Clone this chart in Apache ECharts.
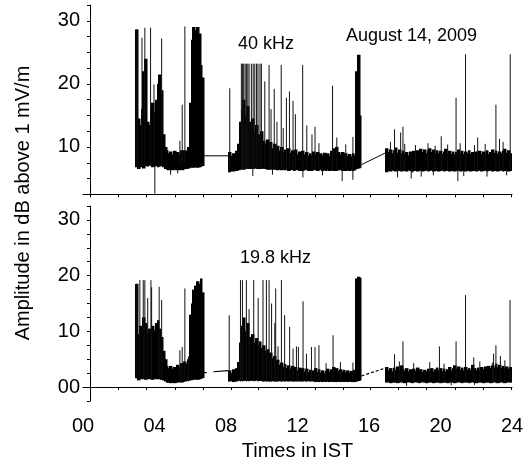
<!DOCTYPE html>
<html><head><meta charset="utf-8">
<script src="https://cdn.jsdelivr.net/npm/echarts@6/dist/echarts.min.js"></script>
<style>html,body{margin:0;padding:0;background:#fff}#c{width:532px;height:465px}</style>
</head><body><div id="c"></div>
<script>
// ---------- axis labels / ticks ----------
const hourLabels = [0, 4, 8, 12, 16, 20, 24];
const hourTicks = [0.39, 1.98, 3.56, 5.15, 6.73, 8.28, 9.81, 11.40, 12.98, 14.56, 16.05, 17.64, 19.23, 20.81, 22.39, 23.97];
const ampLabelsTop = [10, 20, 30];
const ampTicksTop = [2.5, 5, 7.5, 10, 12.5, 15, 17.5, 20, 22.5, 25, 27.5, 30, 32.5];
const ampLabelsBottom = [0, 10, 20, 30];
const ampTicksBottom = [-2.5, 0, 2.5, 5, 7.5, 10, 12.5, 15, 17.5, 20, 22.5, 25, 27.5, 30, 32.5];
const panelTitles = ['40 kHz', '19.8 kHz'];
const dateText = 'August 14, 2009';

// ---------- 40 kHz : dense core [hour, low, high] ----------
const band40 = [
[3.0,6.8,28.6],[3.1,6.5,14.5],[3.2,6.8,13.5],[3.3,7.0,16],[3.4,6.6,22],[3.5,7.0,24],[3.6,6.9,14],[3.7,7.1,13.5],
[3.8,7.0,16],[3.9,6.8,17],[4.0,6.9,15.5],[4.1,7.0,17.5],[4.2,6.8,20],[4.3,6.9,21.5],[4.4,7.0,19],[4.5,6.8,12],
[4.6,6.5,10],[4.7,6.4,9.5],[4.8,6.3,9.0],[4.9,6.4,9.3],[5.0,6.3,8.8],[5.1,6.4,9.4],[5.2,6.3,9.0],[5.3,6.4,9.2],
[5.4,6.3,8.9],[5.5,6.4,9.5],[5.6,6.3,9.0],[5.7,6.5,9.5],[5.8,6.5,9.4],[5.9,6.6,10],[6.0,6.7,17],[6.1,6.8,27],
[6.2,6.7,29],[6.3,6.8,28.5],[6.4,6.7,29],[6.5,6.8,28],[6.6,6.9,23],[6.7,7.0,21],
[8.2,6.0,9.2],[8.3,6.2,8.6],[8.4,6.1,9.0],[8.5,6.3,8.4],[8.6,6.2,9.4],[8.7,6.3,10.5],[8.8,6.4,14],[8.9,6.5,16],
[9.0,6.4,17.5],[9.1,6.5,15],[9.2,6.6,16.5],[9.3,6.5,14],[9.4,6.6,13],[9.5,6.5,14.5],[9.6,6.7,12.5],[9.7,6.6,13.5],
[9.8,6.5,12],[9.9,6.6,11.5],[10.0,6.5,12.5],[10.1,6.6,11],[10.2,6.5,10.5],[10.3,6.4,11.2],[10.4,6.5,10.3],[10.5,6.4,10.8],
[10.6,6.5,9.8],[10.7,6.4,10.5],[10.8,6.5,9.6],[10.9,6.3,10.2],[11.0,6.4,9.4],[11.1,6.3,10.0],[11.2,6.4,9.2],[11.3,6.3,9.6],
[11.4,6.4,9.0],[11.5,6.2,9.8],[11.6,6.3,9.1],[11.7,6.4,9.5],[11.8,6.2,8.9],[11.9,6.3,9.6],[12.0,6.4,8.8],[12.1,6.2,9.3],
[12.2,6.3,8.7],[12.3,6.2,9.4],[12.4,6.3,8.8],[12.5,6.4,9.2],[12.6,6.2,8.6],[12.7,6.3,9.0],[12.8,6.2,8.7],[12.9,6.4,9.3],
[13.0,6.3,8.8],[13.1,6.2,9.2],[13.2,6.3,8.6],[13.3,6.4,9.0],[13.4,6.2,8.7],[13.5,6.3,9.1],[13.6,6.2,8.8],[13.7,6.3,9.0],
[13.8,6.2,8.6],[13.9,6.3,9.4],[14.0,6.2,9.8],[14.1,6.3,9.3],[14.2,6.2,10.0],[14.3,6.4,9.2],[14.4,6.3,8.8],[14.5,6.2,9.2],
[14.6,6.3,8.7],[14.7,6.2,9.0],[14.8,6.3,8.6],[14.9,6.2,8.9],[15.0,6.3,8.5],[15.1,6.2,9.0],[15.2,6.3,8.7],[15.3,6.5,22],
[15.4,6.6,24.6],[15.5,6.7,15],
[17.0,6.0,9.8],[17.1,6.2,9.2],[17.2,6.1,9.6],[17.3,6.3,9.0],[17.4,6.2,9.5],[17.5,6.1,9.9],[17.6,6.3,9.1],[17.7,6.2,9.6],
[17.8,6.1,9.0],[17.9,6.3,9.4],[18.0,6.2,8.8],[18.1,6.1,9.2],[18.2,6.3,8.7],[18.3,6.2,9.3],[18.4,6.0,8.9],[18.5,6.2,9.4],
[18.6,6.3,8.8],[18.7,6.1,9.5],[18.8,6.2,9.1],[18.9,6.3,9.7],[19.0,6.1,9.2],[19.1,6.2,9.6],[19.2,6.3,9.0],[19.3,6.1,9.5],
[19.4,6.2,9.8],[19.5,6.3,9.2],[19.6,6.1,9.6],[19.7,6.2,9.1],[19.8,6.3,9.5],[19.9,6.1,9.0],[20.0,6.2,9.4],[20.1,6.3,8.9],
[20.2,6.1,9.3],[20.3,6.2,9.7],[20.4,6.3,9.1],[20.5,6.1,9.4],[20.6,6.2,8.9],[20.7,6.3,9.3],[20.8,6.1,8.8],[20.9,6.2,9.2],
[21.0,6.3,9.6],[21.1,6.1,9.0],[21.2,6.2,9.4],[21.3,6.3,8.9],[21.4,6.1,9.3],[21.5,6.2,9.0],[21.6,6.3,9.5],[21.7,6.1,8.9],
[21.8,6.2,9.2],[21.9,6.3,8.8],[22.0,6.1,9.3],[22.1,6.2,9.0],[22.2,6.3,9.4],[22.3,6.1,8.9],[22.4,6.2,9.3],[22.5,6.3,9.0],
[22.6,6.1,9.5],[22.7,6.2,8.9],[22.8,6.3,9.2],[22.9,6.1,9.6],[23.0,6.2,9.1],[23.1,6.3,9.4],[23.2,6.1,8.9],[23.3,6.2,9.3],
[23.4,6.3,9.0],[23.5,6.1,9.4],[23.6,6.2,9.7],[23.7,6.3,9.1],[23.8,6.1,9.5],[23.9,6.2,9.0]
];
// 40 kHz isolated spikes [hour, low, high]
const spikes40 = [
[3.02,7,28.7],[3.30,7,27.3],[3.46,7,28.9],[3.78,7,28.9],[3.97,7,19.9],[4.02,2.6,7],[4.40,7,27.2],
[5.42,7,11],[5.55,7,16.7],[5.70,7,29.1],[4.9,5.6,6.5],[5.3,5.8,6.5],
[8.21,6,19.3],[8.86,6.5,23.2],[8.93,6.5,23.2],[8.99,6.5,23.2],[9.07,6.5,23.2],[9.14,6.5,23.2],[9.22,6.5,23.2],
[9.29,6.5,23.2],[9.42,6.5,23.2],[9.52,6.5,23.2],[9.61,6.5,23.2],[9.71,6.5,23.2],[9.79,6.5,23.2],[9.90,6.5,23.2],
[9.98,6.5,23.2],[10.17,6.5,20.4],[10.41,6.5,23.0],[10.52,6.5,16],[10.70,6.5,19.2],[10.85,6.5,14],[11.09,6.5,23.0],
[11.2,6.5,13],[11.38,6.5,17.8],[11.55,6.5,18.8],[11.75,6.5,17.3],[11.88,6.5,15.2],[12.29,6.5,23.0],[12.52,6.5,13.4],
[12.81,6.5,12.0],[12.98,6.5,13.2],[13.96,6.5,19.7],[14.2,6.5,11.5],[14.5,4.6,7],[15.1,4.8,11.6],
[9.5,5.4,6.5],[10.6,5.6,6.5],[12.3,5.2,6.5],[13.4,5.5,6.5],[13.2,6.5,10.6],[14.7,6.5,10.4],
[17.43,6.2,12.8],[17.77,6.2,12.3],[17.9,6.2,13.2],[18.36,5.0,7],[18.92,5.3,7],[20.04,6.2,11.7],[20.87,6.2,17.8],
[20.97,4.6,7],[21.40,6.2,24.7],[22.08,6.2,11.5],[23.1,6.2,16.7],[23.3,6.2,11.3],[23.9,6.2,24.7],
[17.2,6.2,10.8],[18.0,6.2,10.5],[18.6,6.2,10.3],[19.3,6.2,10.6],[19.7,6.2,10.2],[20.4,6.2,10.4],[21.1,6.2,10.6],
[21.9,6.2,10.3],[22.5,6.2,10.5],[23.5,6.2,10.8],
[17.6,5.2,6.5],[19.6,5.5,6.5],[21.3,5.4,6.5],[22.6,5.3,6.5],[23.7,5.5,6.5]
];
const bridge40a = [[6.72, 8.6], [8.2, 8.6]];
const bridge40b = [[15.58, 7.2], [16.95, 9.1]];

// ---------- 19.8 kHz : dense core [hour, low, high] ----------
const band198 = [
[3.0,1.6,18.5],[3.1,1.2,9.5],[3.2,1.5,11],[3.3,1.4,10],[3.4,1.5,12.5],[3.5,1.3,11.5],[3.6,1.5,9.5],[3.7,1.4,10.5],
[3.8,1.5,9.8],[3.9,1.3,11],[4.0,1.5,10.2],[4.1,1.4,11.5],[4.2,1.5,12],[4.3,1.4,10.5],[4.4,1.3,9],[4.5,1.2,6.5],
[4.6,1.0,5.0],[4.7,0.8,3.8],[4.8,0.8,3.4],[4.9,0.7,3.8],[5.0,0.8,3.3],[5.1,0.7,3.6],[5.2,0.8,3.2],[5.3,0.8,4.0],
[5.4,0.9,3.5],[5.5,0.8,4.3],[5.6,0.9,3.9],[5.7,1.0,4.6],[5.8,1.1,4.2],[5.9,1.2,5.0],[6.0,1.2,13],[6.1,1.3,15],
[6.2,1.3,17.5],[6.3,1.4,18.2],[6.4,1.3,19],[6.5,1.4,18.5],[6.6,1.5,19.5],[6.7,1.6,17],
[8.2,1.0,3.0],[8.3,1.1,2.5],[8.4,0.9,3.2],[8.5,1.1,2.6],[8.6,1.0,3.4],[8.7,1.2,4.5],[8.8,1.1,8],[8.9,1.2,11],
[9.0,1.1,12.5],[9.1,1.2,10],[9.2,1.1,11.5],[9.3,1.2,9],[9.4,1.1,8.5],[9.5,1.2,9.5],[9.6,1.1,8],[9.7,1.2,8.8],
[9.8,1.1,7.5],[9.9,1.2,8.2],[10.0,1.1,7],[10.1,1.0,7.5],[10.2,1.1,6.5],[10.3,1.0,6.8],[10.4,1.1,5.8],[10.5,1.0,6.2],
[10.6,1.1,5.2],[10.7,1.0,5.6],[10.8,1.1,4.5],[10.9,1.0,4.9],[11.0,1.1,4.0],[11.1,1.0,4.4],[11.2,1.1,3.6],[11.3,1.0,4.1],
[11.4,1.1,3.4],[11.5,1.0,3.9],[11.6,1.1,3.3],[11.7,1.0,3.8],[11.8,1.1,3.2],[11.9,1.0,3.6],[12.0,1.1,3.0],[12.1,1.0,3.5],
[12.2,1.1,2.9],[12.3,1.0,3.4],[12.4,1.1,2.8],[12.5,1.0,3.3],[12.6,1.1,2.7],[12.7,1.0,3.1],[12.8,1.1,2.6],[12.9,1.0,3.0],
[13.0,0.9,3.4],[13.1,1.0,2.7],[13.2,0.9,3.2],[13.3,1.0,2.6],[13.4,0.9,3.0],[13.5,1.0,2.5],[13.6,0.9,2.9],[13.7,1.0,3.3],
[13.8,0.9,2.8],[13.9,1.0,3.2],[14.0,0.9,3.6],[14.1,1.0,3.1],[14.2,0.9,3.4],[14.3,1.0,2.9],[14.4,0.9,3.2],[14.5,1.0,2.8],
[14.6,0.9,3.1],[14.7,1.0,2.7],[14.8,0.9,3.0],[14.9,1.0,2.6],[15.0,0.9,2.9],[15.1,1.0,2.7],[15.2,0.9,3.1],[15.3,1.0,19.5],
[15.4,1.1,19.8],[15.5,1.2,19.6],
[17.0,0.8,3.6],[17.1,0.9,3.0],[17.2,0.7,3.4],[17.3,0.8,2.8],[17.4,0.9,3.5],[17.5,0.8,3.0],[17.6,0.7,3.7],[17.7,0.8,3.1],
[17.8,0.9,3.9],[17.9,0.8,3.3],[18.0,0.7,2.9],[18.1,0.8,3.4],[18.2,0.9,2.8],[18.3,0.8,3.2],[18.4,0.7,2.7],[18.5,0.8,3.3],
[18.6,0.9,2.9],[18.7,0.8,3.5],[18.8,0.7,2.8],[18.9,0.8,3.2],[19.0,0.9,2.7],[19.1,0.8,3.1],[19.2,0.7,2.8],[19.3,0.8,3.3],
[19.4,0.9,2.9],[19.5,0.8,3.4],[19.6,0.7,2.8],[19.7,0.8,3.2],[19.8,0.9,3.5],[19.9,0.8,3.0],[20.0,0.7,3.4],[20.1,0.8,2.9],
[20.2,0.9,3.3],[20.3,0.8,2.8],[20.4,0.7,3.2],[20.5,0.8,3.6],[20.6,0.9,3.0],[20.7,0.8,3.4],[20.8,0.7,3.9],[20.9,0.8,3.3],
[21.0,0.9,3.7],[21.1,0.8,3.1],[21.2,0.7,3.5],[21.3,0.8,3.0],[21.4,0.9,3.6],[21.5,0.8,3.1],[21.6,0.7,3.4],[21.7,0.8,3.0],
[21.8,0.9,4.0],[21.9,0.8,3.4],[22.0,0.7,3.0],[22.1,0.8,3.5],[22.2,0.9,3.1],[22.3,0.8,3.6],[22.4,0.7,3.2],[22.5,0.8,3.7],
[22.6,0.9,3.3],[22.7,0.8,3.8],[22.8,0.7,3.4],[22.9,0.8,3.9],[23.0,0.9,3.5],[23.1,0.8,4.2],[23.2,0.7,3.6],[23.3,0.8,4.0],
[23.4,0.9,3.5],[23.5,0.8,3.8],[23.6,0.7,3.4],[23.7,0.8,3.7],[23.8,0.9,3.3],[23.9,0.8,3.6]
];
// 19.8 kHz isolated spikes [hour, low, high]
const spikes198 = [
[3.02,1.5,18.6],[3.18,1.5,19.2],[3.37,1.5,19.2],[3.46,1.5,19.2],[3.62,1.5,16],[3.8,1.5,19.2],[3.84,1.5,17.9],
[4.26,1.5,18.0],[4.4,1.5,15.6],[5.42,1,6.6],[5.55,1,7.2],[5.70,1,17.7],[5.9,1,5.5],
[8.18,1,12.9],[8.81,1,19.2],[8.92,1,19.2],[9.14,1,19.2],[9.29,1,14],[9.55,1,19.2],[9.8,1,16],[10.07,1,19.2],
[10.26,1,19.2],[10.41,1,19.2],[10.55,1,15],[10.73,1,11.5],[10.78,1,17.7],[10.91,1,7.3],[11.1,1,19.2],[11.28,1,12.9],
[11.56,1,10.8],[11.75,1,6.9],[11.94,1,7.3],[12.05,1,7.2],[12.31,1,15.4],[12.5,1,6.0],[12.78,1,7.2],[12.98,1,7.2],
[13.2,1,7.5],[13.99,1,9.3],[15.1,1,4.4],[13.6,1,4.3],[14.4,1,4.5],
[17.43,0.8,5.9],[17.9,0.8,8.2],[19.94,0.8,7.3],[20.87,0.8,8.2],[21.4,0.8,16.5],[21.86,0.8,5.3],[22.97,0.8,6.0],
[23.1,0.8,7.5],[23.35,0.8,5.6],[23.89,0.8,15.6],
[17.7,0.8,4.6],[18.5,0.8,4.3],[19.4,0.8,4.5],[20.2,0.8,4.2],[22.2,0.8,4.6],[22.9,0.8,4.4],[23.6,0.8,4.8],
[18.1,0.2,1],[20.6,0.3,1],[21.9,0.4,1]
];
const bridge198a = [[6.7, 2.6], [6.92, 2.6], [7.1, '-'], [7.3, 2.75], [8.12, 2.95]];
const bridge198b = [[15.58, 2.0], [17.0, 3.5]];

// ---------- drawing ----------
const FONT = 'Liberation Sans, Arial, Helvetica, sans-serif';
const INK = '#000';
const BIN = 0.1;
const pad2 = v => (v < 10 ? '0' : '') + v;

function bandItem(params, api) {
  const t = api.value(0), lo = api.value(1), hi = api.value(2);
  const pL = api.coord([t - BIN / 2, hi]);
  const pR = api.coord([t + BIN / 2, lo]);
  const x0 = Math.floor(pL[0]), x1 = Math.ceil(pR[0]) + 0.5;
  return { type: 'rect', shape: { x: x0, y: pL[1], width: x1 - x0, height: pR[1] - pL[1] },
           style: { fill: INK, stroke: null } };
}
function spikeItem(params, api) {
  const t = api.value(0);
  const a = api.coord([t, api.value(2)]);
  const b = api.coord([t, api.value(1)]);
  return { type: 'line', shape: { x1: a[0], y1: a[1], x2: b[0], y2: b[1] },
           style: { stroke: '#111', lineWidth: 1 } };
}

const xCommon = {
  type: 'value', min: 0, max: 24,
  axisLine: { show: true, lineStyle: { color: INK, width: 1 } },
  axisTick: { show: true, customValues: hourTicks, length: 3, lineStyle: { color: INK } },
  splitLine: { show: false }
};
const yCommon = {
  type: 'value', offset: -7,
  axisLine: { show: true, lineStyle: { color: INK, width: 1 } },
  splitLine: { show: false }
};

const chart = echarts.init(document.getElementById('c'), null, { renderer: 'canvas' });
chart.setOption({
  animation: false,
  textStyle: { fontFamily: FONT },
  grid: [
    { left: 83, right: 20, top: 5, height: 189.3 },
    { left: 83, right: 20, top: 206, height: 195 },
    { left: 90, right: 20, top: 5, height: 396 }
  ],
  xAxis: [
    Object.assign({}, xCommon, { gridIndex: 0, axisLabel: { show: false } }),
    Object.assign({}, xCommon, {
      gridIndex: 1,
      axisLabel: { show: true, customValues: hourLabels, formatter: v => pad2(v),
                   fontSize: 20, color: INK, margin: 15, fontFamily: FONT },
      name: 'Times in IST', nameLocation: 'middle', nameGap: 40,
      nameTextStyle: { fontSize: 20, color: INK, fontFamily: FONT }
    }),
    { gridIndex: 2, type: 'value', min: 0, max: 1, show: false }
  ],
  yAxis: [
    Object.assign({}, yCommon, {
      gridIndex: 0, min: 2.5, max: 32.5,
      axisTick: { show: true, customValues: ampTicksTop, length: 3, lineStyle: { color: INK } },
      axisLabel: { show: true, customValues: ampLabelsTop, formatter: v => pad2(v),
                   fontSize: 20, color: INK, margin: 10, fontFamily: FONT }
    }),
    Object.assign({}, yCommon, {
      gridIndex: 1, min: -2.5, max: 32.5,
      axisTick: { show: true, customValues: ampTicksBottom, length: 3, lineStyle: { color: INK } },
      axisLabel: { show: true, customValues: ampLabelsBottom, formatter: v => pad2(v),
                   fontSize: 20, color: INK, margin: 10, fontFamily: FONT }
    }),
    {
      gridIndex: 2, type: 'value', min: 0, max: 1,
      axisLine: { show: false }, axisTick: { show: false }, axisLabel: { show: false }, splitLine: { show: false },
      name: 'Amplitude in dB above 1 mV/m', nameLocation: 'middle', nameGap: 57,
      nameTextStyle: { fontSize: 20, color: INK, fontFamily: FONT }
    }
  ],
  graphic: [
    { type: 'text', left: 238, top: 35, style: { text: panelTitles[0], font: '18px ' + FONT, fill: INK } },
    { type: 'text', left: 346, top: 27, style: { text: dateText, font: '18px ' + FONT, fill: INK } },
    { type: 'text', left: 240, top: 249, style: { text: panelTitles[1], font: '18px ' + FONT, fill: INK } }
  ],
  series: [
    { type: 'custom', xAxisIndex: 0, yAxisIndex: 0, data: band40, renderItem: bandItem, clip: true, silent: true },
    { type: 'custom', xAxisIndex: 0, yAxisIndex: 0, data: spikes40, renderItem: spikeItem, clip: true, silent: true },
    { type: 'line', xAxisIndex: 0, yAxisIndex: 0, data: bridge40a, symbol: 'none', silent: true,
      lineStyle: { color: INK, width: 1 } },
    { type: 'line', xAxisIndex: 0, yAxisIndex: 0, data: bridge40b, symbol: 'none', silent: true,
      lineStyle: { color: INK, width: 1 } },
    { type: 'custom', xAxisIndex: 1, yAxisIndex: 1, data: band198, renderItem: bandItem, clip: true, silent: true },
    { type: 'custom', xAxisIndex: 1, yAxisIndex: 1, data: spikes198, renderItem: spikeItem, clip: true, silent: true },
    { type: 'line', xAxisIndex: 1, yAxisIndex: 1, data: bridge198a, symbol: 'none', silent: true,
      lineStyle: { color: INK, width: 1.2 } },
    { type: 'line', xAxisIndex: 1, yAxisIndex: 1, data: bridge198b, symbol: 'none', silent: true,
      lineStyle: { color: INK, width: 1.2, type: [3, 2] } }
  ]
});
</script>
</body></html>
